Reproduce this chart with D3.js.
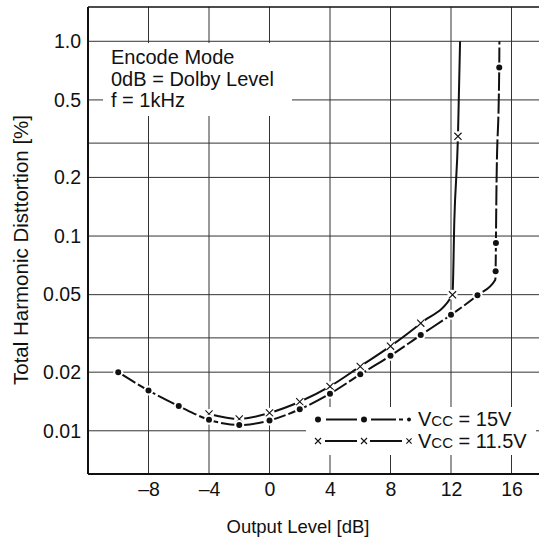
<!DOCTYPE html>
<html><head><meta charset="utf-8">
<script src="https://cdn.jsdelivr.net/npm/d3@7"></script>
<style>
body{margin:0;background:#fff}
text{font-family:"Liberation Sans",Arial,Helvetica,sans-serif;fill:#111}
</style>
</head><body><svg id="c" width="539" height="539"></svg>
<script>
// ---- data ----
const xTicks = [-8, -4, 0, 4, 8, 12, 16];
const xTickLabels = ["–8", "–4", "0", "4", "8", "12", "16"];
const xGrid = [-8, -4, 0, 4, 8, 12, 16, 20];
const yGrid = [0.01, 0.02, 0.03, 0.05, 0.1, 0.2, 0.3, 0.5, 1.0];
const yTicks = [0.01, 0.02, 0.05, 0.1, 0.2, 0.5, 1.0];
const yTickLabels = ["0.01", "0.02", "0.05", "0.1", "0.2", "0.5", "1.0"];

// Vcc = 15V (dot markers)
const level15 = [-10, -8, -6, -4, -2, 0, 2, 4, 6, 8, 10, 12, 13.75, 14.93, 14.95, 14.97, 15.0, 15.19, 15.2];
const thd15   = [0.020, 0.0161, 0.0134, 0.0114, 0.0107, 0.0113, 0.0129, 0.0155, 0.0195, 0.0243, 0.031, 0.0394, 0.0496, 0.0597, 0.066, 0.092, 0.16, 0.733, 1.0];
const mark15  = [1, 1, 1, 1, 1, 1, 1, 1, 1, 1, 1, 1, 1, 0, 1, 1, 0, 1, 0];

// Vcc = 11.5V (x markers)
const level11 = [-4, -2, 0, 2, 4, 6, 8, 10, 12.1, 12.22, 12.46, 12.6];
const thd11   = [0.0122, 0.0115, 0.01236, 0.0141, 0.0169, 0.0214, 0.0272, 0.0357, 0.0499, 0.12, 0.325, 1.0];
const mark11  = [1, 1, 1, 1, 1, 1, 1, 1, 1, 0, 1, 0];

const notes = ["Encode Mode", "0dB = Dolby Level", "f = 1kHz"];
const legendValues = ["15V", "11.5V"];

// ---- layout ----
const svg = d3.select("#c");
svg.append("rect").attr("width", 539).attr("height", 539).attr("fill", "#fff");
const L = 88, R = 572, T = 7, B = 474;
const x = d3.scaleLinear().domain([-12, 20]).range([L, R]);
const y = d3.scaleLog().domain([0.006, 1.5]).range([B, T]);
const FONT = '"Liberation Sans",Arial,sans-serif';

const plot = svg.append("g");
plot.append("g").selectAll("line").data(xGrid).join("line")
  .attr("x1", d => x(d)).attr("x2", d => x(d)).attr("y1", T).attr("y2", B)
  .attr("stroke", "#333").attr("stroke-width", 1);
plot.append("g").selectAll("line").data(yGrid).join("line")
  .attr("x1", L).attr("x2", R).attr("y1", d => y(d)).attr("y2", d => y(d))
  .attr("stroke", "#333").attr("stroke-width", 1);

// white boxes (annotation, legend)
svg.append("rect").attr("x", 103).attr("y", 43).attr("width", 189).attr("height", 73).attr("fill", "#fff");
svg.append("rect").attr("x", 306).attr("y", 407).attr("width", 230).attr("height", 48).attr("fill", "#fff");

// frame
svg.append("line").attr("x1", L).attr("x2", 539).attr("y1", T).attr("y2", T).attr("stroke", "#111").attr("stroke-width", 1.6);
svg.append("line").attr("x1", L).attr("x2", 539).attr("y1", B).attr("y2", B).attr("stroke", "#111").attr("stroke-width", 2);
svg.append("line").attr("x1", L).attr("x2", L).attr("y1", T).attr("y2", B).attr("stroke", "#111").attr("stroke-width", 2);

// axes
const xAxis = d3.axisBottom(x).tickValues(xTicks).tickSize(0).tickPadding(8)
  .tickFormat((d, i) => xTickLabels[i]);
const gx = svg.append("g").attr("transform", `translate(0,${B})`).call(xAxis);
gx.select(".domain").remove();
gx.selectAll("text").attr("font-size", 19.5).attr("fill", "#111").attr("font-family", FONT);

const yAxis = d3.axisLeft(y).tickValues(yTicks).tickSize(0).tickPadding(7)
  .tickFormat((d, i) => yTickLabels[i]);
const gy = svg.append("g").attr("transform", `translate(${L},0)`).call(yAxis);
gy.select(".domain").remove();
gy.selectAll("text").attr("font-size", 19.5).attr("fill", "#111").attr("font-family", FONT);

// titles
svg.append("text").attr("x", 298).attr("y", 533).attr("text-anchor", "middle")
  .attr("font-size", 18.5).text("Output Level [dB]");
svg.append("text").attr("transform", "translate(28,250) rotate(-90)").attr("text-anchor", "middle")
  .attr("font-size", 20.5).text("Total Harmonic Disttortion [%]");

// notes
svg.append("g").selectAll("text").data(notes).join("text")
  .attr("x", 111).attr("y", (d, i) => 64 + i * 21.5).attr("font-size", 20).text(d => d);

// curves
const line = d3.line().x(d => x(d[0])).y(d => y(d[1])).curve(d3.curveMonotoneX);
const s15 = level15.map((v, i) => [v, thd15[i], mark15[i]]);
const s11 = level11.map((v, i) => [v, thd11[i], mark11[i]]);

svg.append("path").datum(s11).attr("d", line).attr("fill", "none")
  .attr("stroke", "#111").attr("stroke-width", 2);
svg.append("path").datum(s15).attr("d", line).attr("fill", "none")
  .attr("stroke", "#111").attr("stroke-width", 2).attr("stroke-dasharray", "20,3");

function xMark(g, cx, cy, s) {
  g.append("circle").attr("cx", cx).attr("cy", cy).attr("r", s + 1.5).attr("fill", "#fff");
  g.append("path").attr("d", `M${cx - s},${cy - s}L${cx + s},${cy + s}M${cx - s},${cy + s}L${cx + s},${cy - s}`)
    .attr("stroke", "#111").attr("stroke-width", 1.1).attr("fill", "none");
}
function dotMark(g, cx, cy, r) {
  g.append("circle").attr("cx", cx).attr("cy", cy).attr("r", r + 2).attr("fill", "#fff");
  g.append("circle").attr("cx", cx).attr("cy", cy).attr("r", r).attr("fill", "#111");
}
const mg = svg.append("g");
s11.filter(d => d[2]).forEach(d => xMark(mg, x(d[0]), y(d[1]), 3.6));
s15.filter(d => d[2]).forEach(d => dotMark(mg, x(d[0]), y(d[1]), 3));

// legend
const lg = svg.append("g");
const rows = [419.5, 441];
lg.append("line").attr("x1", 326).attr("x2", 357).attr("y1", rows[0]).attr("y2", rows[0]).attr("stroke", "#111").attr("stroke-width", 2);
lg.append("line").attr("x1", 371).attr("x2", 396).attr("y1", rows[0]).attr("y2", rows[0]).attr("stroke", "#111").attr("stroke-width", 2);
lg.append("line").attr("x1", 399).attr("x2", 403).attr("y1", rows[0]).attr("y2", rows[0]).attr("stroke", "#111").attr("stroke-width", 2);
dotMark(lg, 318, rows[0], 3); dotMark(lg, 364, rows[0], 3); dotMark(lg, 409, rows[0], 2);
lg.append("line").attr("x1", 325).attr("x2", 357).attr("y1", rows[1]).attr("y2", rows[1]).attr("stroke", "#111").attr("stroke-width", 2);
lg.append("line").attr("x1", 370).attr("x2", 402).attr("y1", rows[1]).attr("y2", rows[1]).attr("stroke", "#111").attr("stroke-width", 2);
xMark(lg, 318, rows[1], 3); xMark(lg, 364, rows[1], 3); xMark(lg, 409, rows[1], 2.6);

legendValues.forEach((v, i) => {
  const t = lg.append("text").attr("x", 418).attr("y", rows[i] + 6.5).attr("font-size", 20);
  t.append("tspan").text("V");
  t.append("tspan").attr("font-size", 15).text("CC");
  t.append("tspan").text(" = " + v);
});
</script>
</body></html>
